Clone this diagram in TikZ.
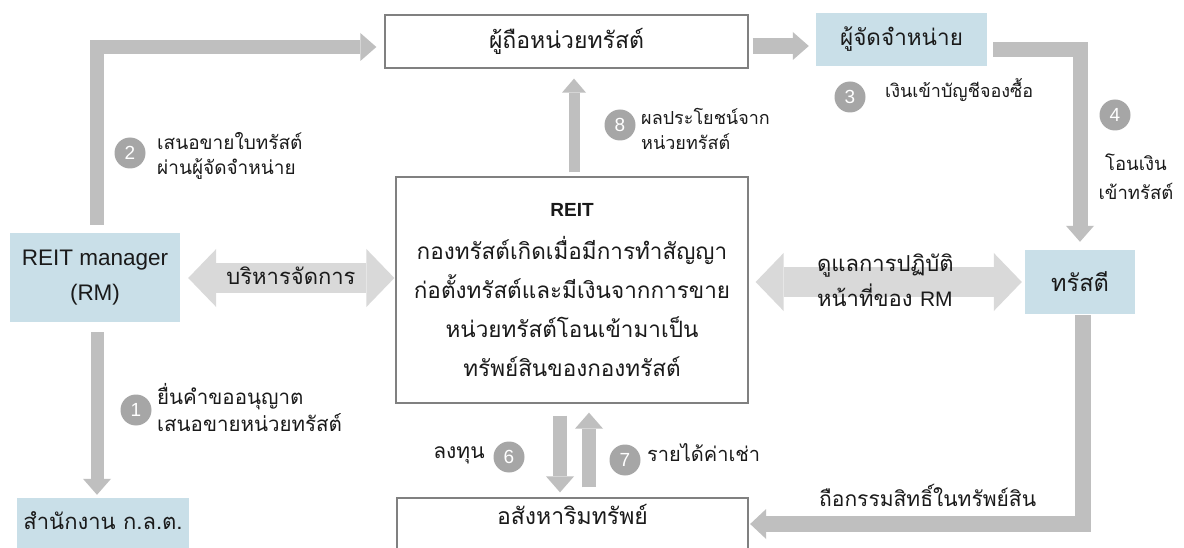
\documentclass[tikz,border=0pt]{standalone}
\usepackage{fontspec}
\setmainfont{Liberation Sans}
\newfontfamily\thaif[Script=Thai]{Loma}
\usetikzlibrary{arrows.meta}
\definecolor{boxblue}{HTML}{C9DFE8}
\definecolor{arr}{HTML}{BFBFBF}
\definecolor{arrl}{HTML}{D9D9D9}
\definecolor{circ}{HTML}{A6A6A6}
\definecolor{txt}{HTML}{1A1A1A}
\definecolor{edge}{HTML}{808080}
\tikzset{
  thtext/.style={text=txt, font=\thaif\fontsize{19}{25}\selectfont, inner sep=0pt},
  big/.style={font=\thaif\fontsize{#1}{25}\selectfont},
  wbox/.style={thtext, draw=edge, line width=1.3pt, fill=white},
  bbox/.style={thtext, fill=boxblue},
  num/.style={circle, fill=circ, text=white, minimum size=31pt, inner sep=0pt,
              font=\normalfont\fontsize{19}{19}\selectfont},
  sarrow/.style={color=arr, line width=14pt,
     -{Triangle[length=16pt,width=28pt,line width=0pt]}},
  darrow/.style={color=arrl, line width=30pt,
     {Triangle[length=28pt,width=58pt,line width=0pt]}-{Triangle[length=28pt,width=58pt,line width=0pt]}},
}
\begin{document}
\begin{tikzpicture}[x=1pt,y=-1pt]
\useasboundingbox (0,0) rectangle (1184,548);
\fill[white] (0,0) rectangle (1184,548);
% boxes
\node[wbox, big=23, minimum width=363pt, minimum height=53pt] (holder) at (566.5,41.5) {ผู้ถือหน่วยทรัสต์};
\node[bbox, big=22.5, minimum width=171pt, minimum height=53pt] (dist) at (901.5,39.5) {ผู้จัดจำหน่าย};
\node[bbox, minimum width=170pt, minimum height=89pt, align=center,
      font=\normalfont\fontsize{22.5}{35}\selectfont] (rm) at (95,277.5) {REIT manager\\(RM)};
\node[bbox, big=22, minimum width=172pt, minimum height=62pt, text height=16pt, text depth=16pt] (sec) at (103,529) {สำนักงาน ก.ล.ต.};
\node[wbox, minimum width=352pt, minimum height=226pt, align=center,
      font=\thaif\fontsize{22.5}{39}\selectfont] (reit) at (572,290)
  {{\normalfont\bfseries\fontsize{19}{19}\selectfont REIT}\\[4pt]
   กองทรัสต์เกิดเมื่อมีการทำสัญญา\\
   ก่อตั้งทรัสต์และมีเงินจากการขาย\\
   หน่วยทรัสต์โอนเข้ามาเป็น\\
   ทรัพย์สินของกองทรัสต์};
\node[bbox, big=23.5, minimum width=110pt, minimum height=64pt] (trustee) at (1080,282) {ทรัสตี};
\node[wbox, big=23, minimum width=351pt, minimum height=62pt, text height=16pt, text depth=26pt] (prop) at (572.5,529) {อสังหาริมทรัพย์};

% single arrows
\draw[sarrow] ([xshift=2pt,yshift=8pt]rm.north) |- ([xshift=-8pt,yshift=-5.5pt]holder.west);
\draw[sarrow, line width=16pt] ([xshift=4pt,yshift=-4.5pt]holder.east) -- ([xshift=-7pt,yshift=-6.5pt]dist.west);
\draw[sarrow, line width=15pt] ([xshift=6pt,yshift=-10.5pt]dist.east) -| ([yshift=8pt]trustee.north);
\draw[sarrow, line width=11pt, -{Triangle[length=14pt,width=24pt,line width=0pt]}] ([xshift=2pt,yshift=4pt]reit.north) -- ([xshift=7.5pt,yshift=-10pt]holder.south);
\draw[sarrow, line width=13pt] ([xshift=2pt,yshift=-10pt]rm.south) -- ([xshift=-6pt,yshift=3pt]sec.north);
\draw[sarrow] ([xshift=-12pt,yshift=-12pt]reit.south) -- ([xshift=-12.5pt,yshift=5pt]prop.north);
\draw[sarrow] ([xshift=16.5pt,yshift=10pt]prop.north) -- ([xshift=17pt,yshift=-9pt]reit.south);
\draw[sarrow, line width=16pt, -{Triangle[length=16pt,width=30pt,line width=0pt]}] ([xshift=3pt,yshift=-1pt]trustee.south) |- ([xshift=1.5pt,yshift=5pt]prop.east);

% double arrows
\draw[darrow] ([xshift=8pt,yshift=-0.5pt]rm.east) -- ([xshift=-1pt,yshift=12pt]reit.west);
\draw[darrow] ([xshift=7pt,yshift=8pt]reit.east) -- ([xshift=-3pt]trustee.west);

% arrow texts
\node[thtext, big=22] (tmanage) at (291,276) {บริหารจัดการ};
\node[thtext, anchor=west, align=left, font=\thaif\fontsize{22}{35}\selectfont] (tsuper) at (817,280)
  {ดูแลการปฏิบัติ\\หน้าที่ของ {\normalfont\fontsize{21}{35}\selectfont RM}};
\node[thtext, big=21, anchor=west] (town) at (819,495) {ถือกรรมสิทธิ์ในทรัพย์สิน};

% numbered steps
\node[num] (c1) at (136,410) {1};
\node[thtext, anchor=west, align=left, font=\thaif\fontsize{20.5}{27}\selectfont] (t1) at (157,408) {ยื่นคำขออนุญาต\\เสนอขายหน่วยทรัสต์};
\node[num] (c2) at (130,153) {2};
\node[thtext, anchor=west, align=left] (t2) at (157,155.5) {เสนอขายใบทรัสต์\\ผ่านผู้จัดจำหน่าย};
\node[num] (c3) at (850,97) {3};
\node[thtext, big=18, anchor=west] (t3) at (885,90) {เงินเข้าบัญชีจองซื้อ};
\node[num] (c4) at (1115,115) {4};
\node[thtext, align=center, font=\thaif\fontsize{18.5}{29}\selectfont] (t4) at (1136,177) {โอนเงิน\\เข้าทรัสต์};
\node[num] (c6) at (509,457) {6};
\node[thtext, big=21] (t6) at (459,455) {ลงทุน};
\node[num] (c7) at (625,460) {7};
\node[thtext, big=20, anchor=west] (t7) at (647,453) {รายได้ค่าเช่า};
\node[num] (c8) at (620,125) {8};
\node[thtext, anchor=west, align=left, font=\thaif\fontsize{18}{25}\selectfont] (t8) at (641,128.5) {ผลประโยชน์จาก\\หน่วยทรัสต์};
\end{tikzpicture}
\end{document}
